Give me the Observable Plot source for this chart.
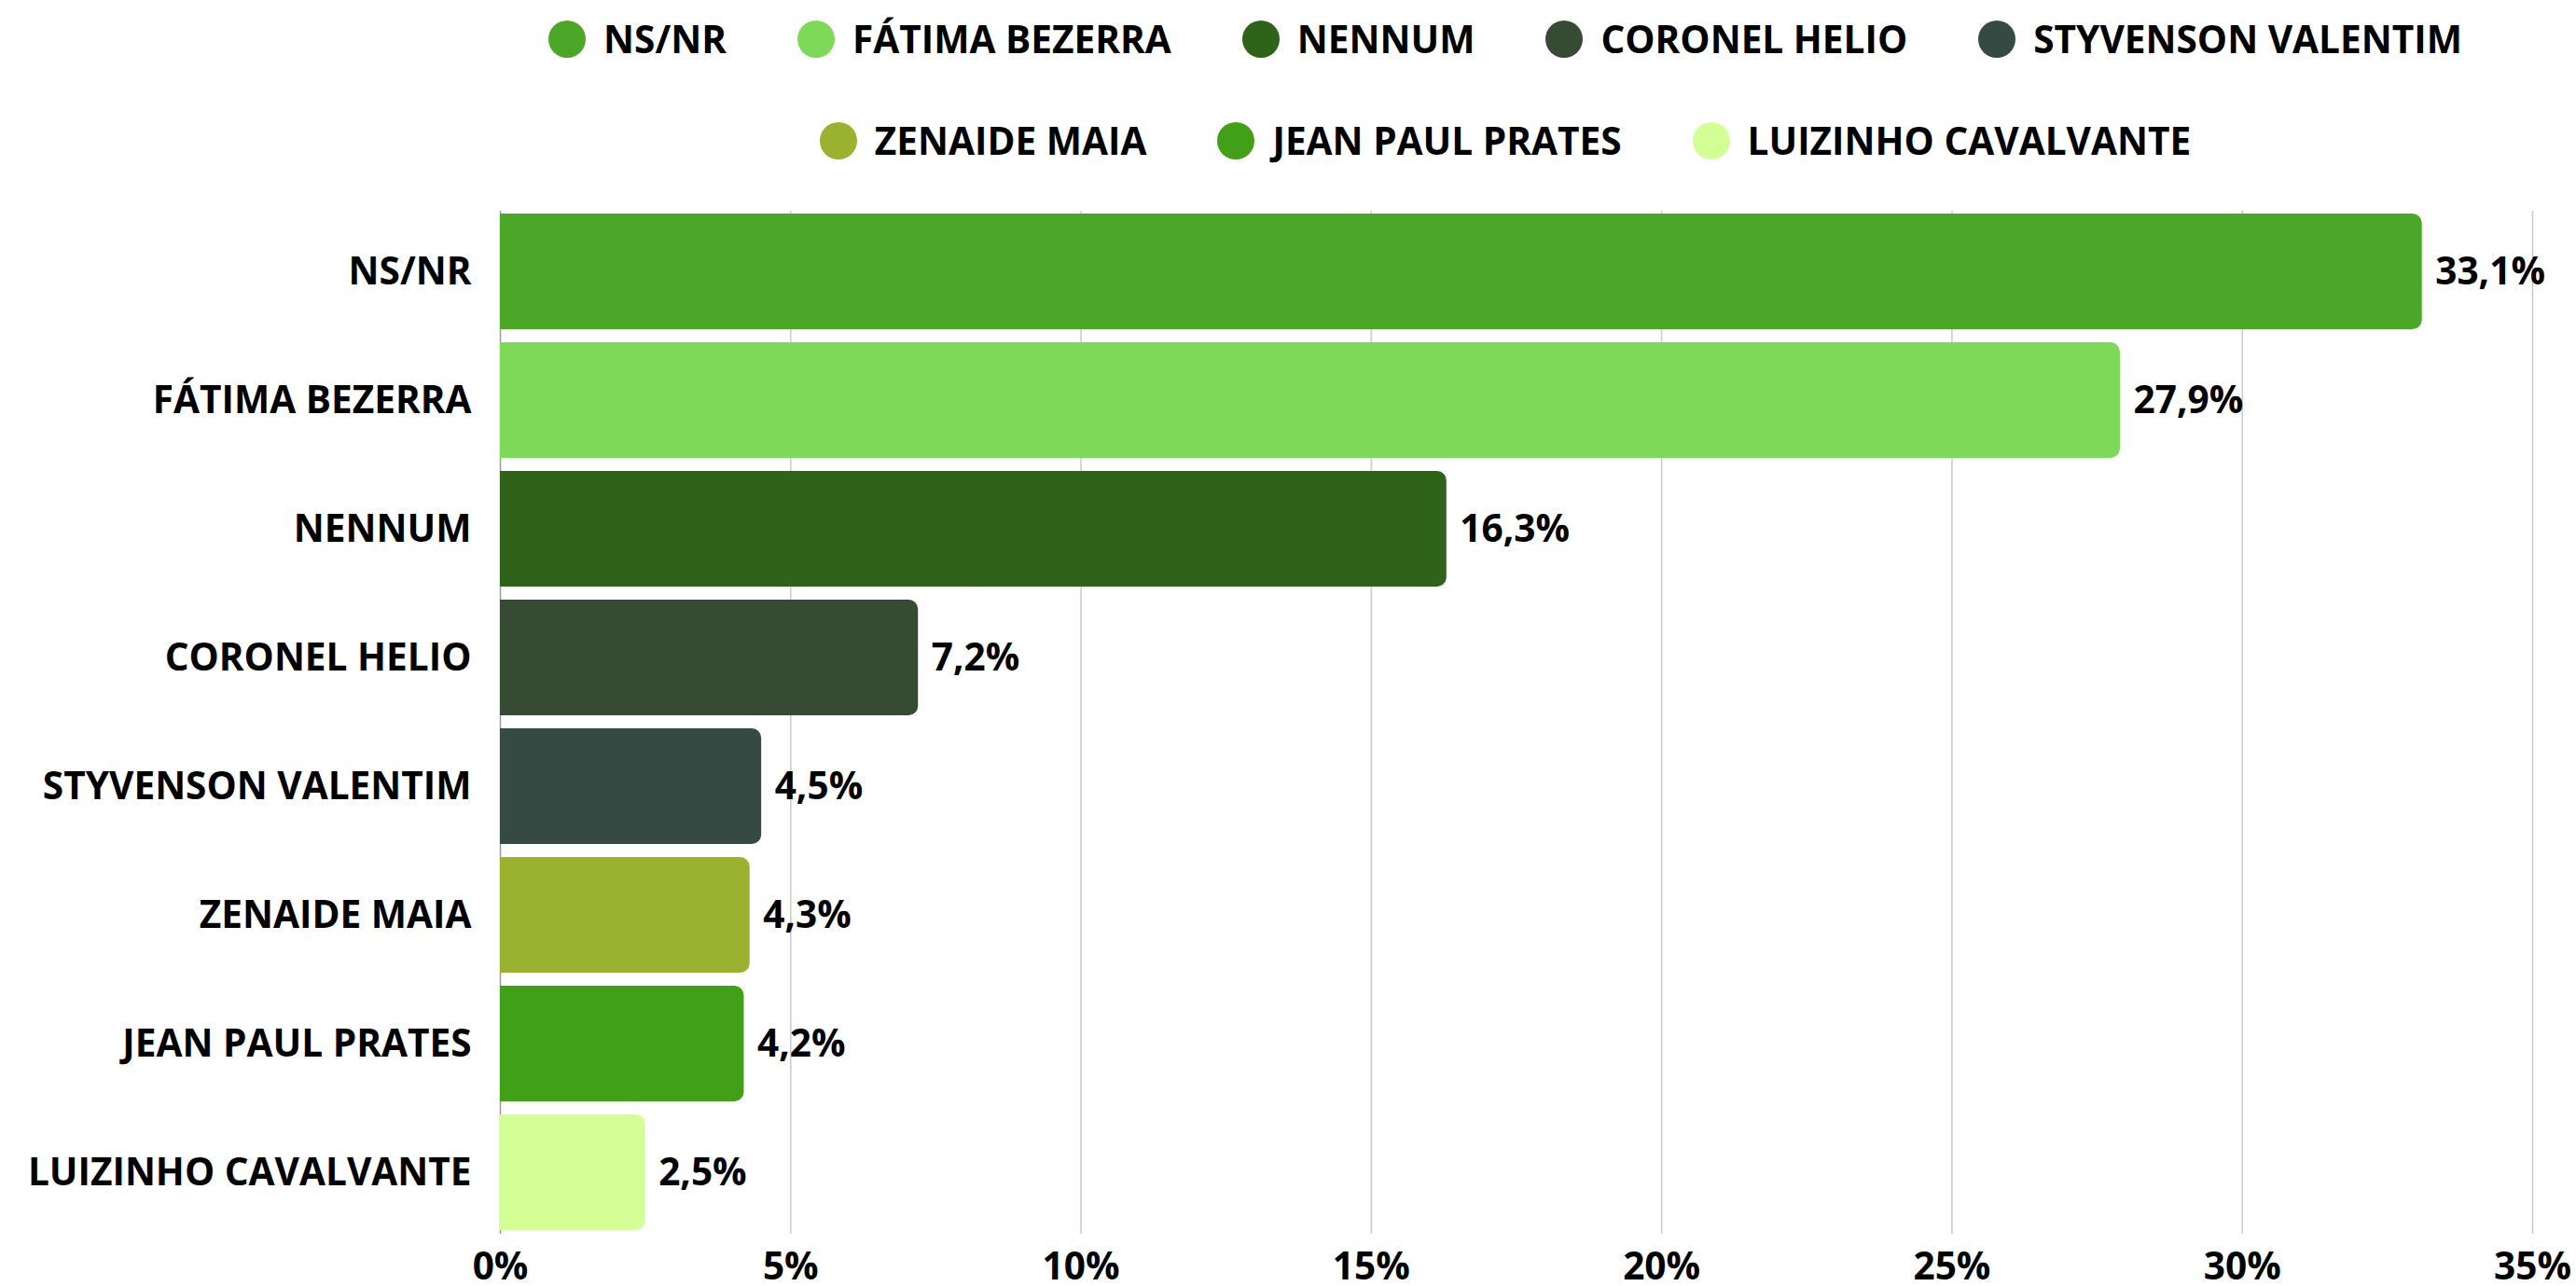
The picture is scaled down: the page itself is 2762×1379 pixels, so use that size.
<!DOCTYPE html>
<html>
<head>
<meta charset="utf-8">
<script src="https://cdn.jsdelivr.net/npm/d3@7"></script>
<script src="https://cdn.jsdelivr.net/npm/@observablehq/plot@0.6"></script>
<style>
  html, body { margin: 0; padding: 0; background: #fff; }
  body { width: 2762px; height: 1379px; overflow: hidden; font-family: "Open Sans", sans-serif; }
  #legend { box-sizing: border-box; width: 2762px; height: 200px; padding-left: 466px; padding-top: 22px; }
  .row { display: flex; justify-content: center; align-items: center; height: 40px; margin-bottom: 69px; }
  .item { display: flex; align-items: center; margin: 0 38px; }
  .sw { width: 40px; height: 40px; border-radius: 50%; margin-right: 19px; flex: none; }
  .lab { font-size: 40.6px; font-weight: 700; color: #000; white-space: nowrap; line-height: 40px; }
  #chart svg { display: block; overflow: visible; }
</style>
</head>
<body>
<div id="legend"></div>
<div id="chart"></div>
<script>
const categories = ["NS/NR", "FÁTIMA BEZERRA", "NENNUM", "CORONEL HELIO", "STYVENSON VALENTIM", "ZENAIDE MAIA", "JEAN PAUL PRATES", "LUIZINHO CAVALVANTE"];
const values = [33.1, 27.9, 16.3, 7.2, 4.5, 4.3, 4.2, 2.5];
const colors = ["#4ca627", "#7ed958", "#2e6319", "#374b34", "#344a43", "#9bb130", "#42a018", "#d4fe96"];
const xTicks = [0, 5, 10, 15, 20, 25, 30, 35];
const legendRows = [5, 3];

const data = categories.map((c, i) => ({cat: c, value: values[i], color: colors[i]}));

// legend
const legend = document.getElementById("legend");
let k = 0;
for (const n of legendRows) {
  const row = document.createElement("div");
  row.className = "row";
  for (let j = 0; j < n; j++, k++) {
    const it = document.createElement("div");
    it.className = "item";
    const sw = document.createElement("span");
    sw.className = "sw";
    sw.style.background = colors[k];
    const lab = document.createElement("span");
    lab.className = "lab";
    lab.textContent = categories[k];
    it.appendChild(sw); it.appendChild(lab);
    row.appendChild(it);
  }
  legend.appendChild(row);
}

const fmt = v => v.toFixed(1).replace(".", ",") + "%";

const chart = Plot.plot({
  width: 2762,
  height: 1179,
  marginTop: 26,
  marginBottom: 56,
  marginLeft: 536,
  marginRight: 47,
  style: {fontFamily: "'Open Sans', sans-serif", fontSize: "40px", fontWeight: 700, color: "#000", background: "#fff"},
  x: {domain: [0, 35], ticks: xTicks, tickFormat: d => d + "%", label: null},
  y: {domain: categories, paddingInner: 0.1, paddingOuter: 0, label: null},
  color: {domain: categories, range: colors},
  marks: [
    Plot.gridX(xTicks, {stroke: "#cccccc", strokeOpacity: 1, strokeWidth: 1.6}),
    Plot.ruleX([0], {stroke: "#999999", strokeWidth: 1.2}),
    Plot.barX(data, {y: "cat", x: "value", fill: "cat", rx: 10}),
    Plot.barX(data, {y: "cat", x1: 0, x2: d => d.value / 2, fill: "cat"}),
    Plot.text(data, {y: "cat", x: "value", text: d => fmt(d.value), textAnchor: "start", dx: 14, fill: "#000", fontSize: 40.6, fontWeight: 700}),
    Plot.axisX({ticks: xTicks, tickFormat: d => d + "%", tickSize: 0, tickPadding: 20, fill: "#000", fontSize: 40.6, fontWeight: 700, label: null}),
    Plot.axisY({tickSize: 0, tickPadding: 31, fill: "#000", fontSize: 40.6, fontWeight: 700, label: null})
  ]
});
document.getElementById("chart").appendChild(chart);
</script>
</body>
</html>
